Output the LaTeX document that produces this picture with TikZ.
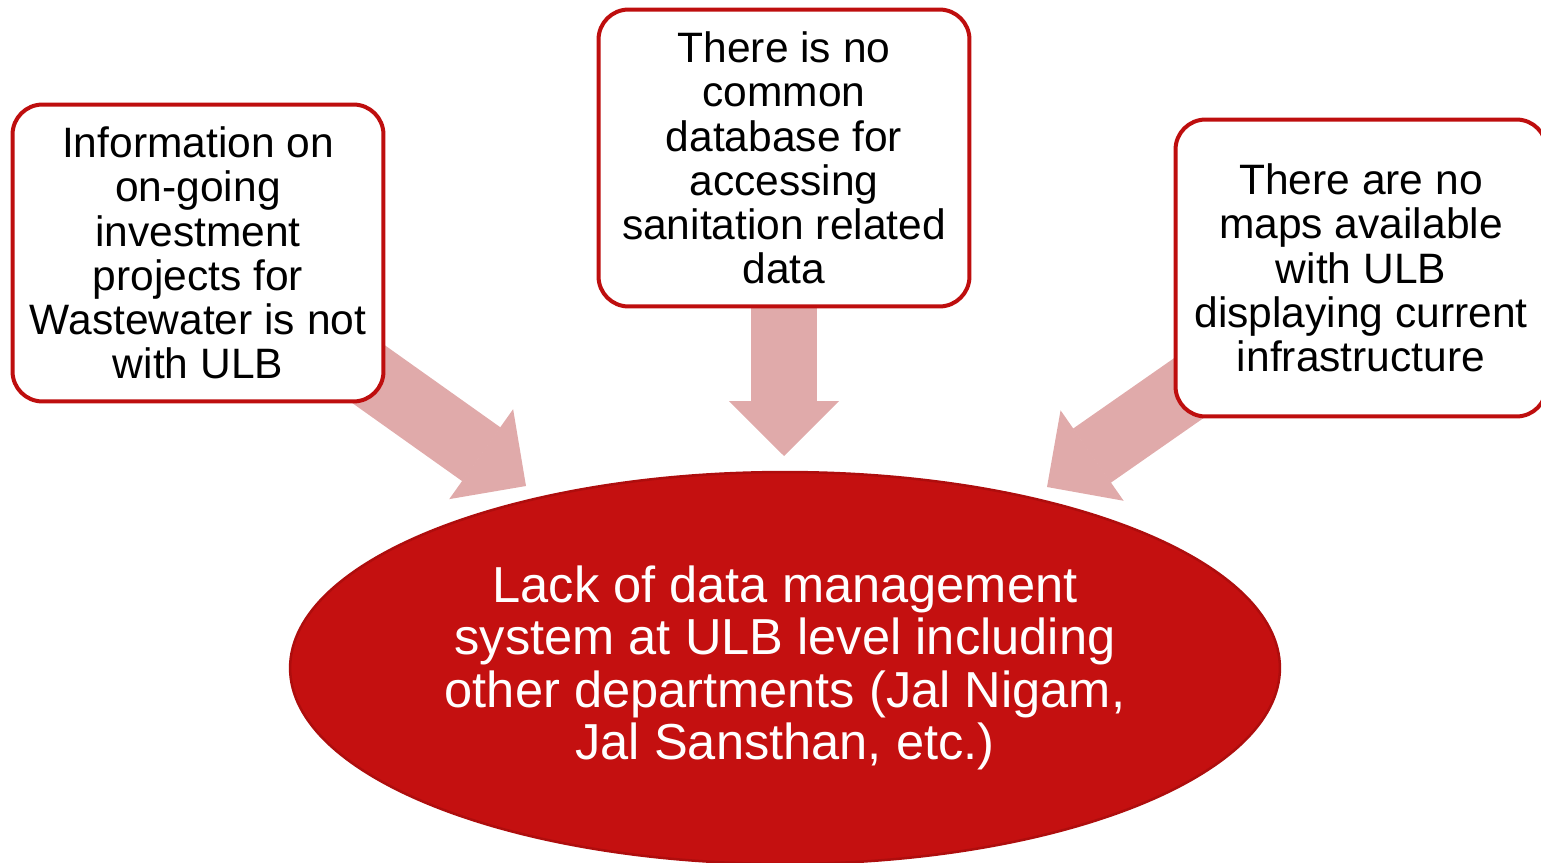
\documentclass[tikz,border=0pt]{standalone}
\usepackage{fontspec}
\setmainfont{Liberation Sans}
\usetikzlibrary{arrows.meta,shapes.geometric,backgrounds}
\definecolor{boxred}{HTML}{BE0E0E}
\definecolor{ellred}{HTML}{C41010}
\definecolor{ellrim}{HTML}{AE0D0D}
\definecolor{arrowpink}{HTML}{E0AAAA}

\begin{document}
\begin{tikzpicture}[x=0.02cm,y=-0.02cm,
	cause/.style={draw=boxred,line width=0.08cm,fill=white,rounded corners=0.6cm,
		minimum width=7.42cm,minimum height=5.94cm,inner sep=0pt,align=center,
		font=\fontsize{24.2}{25.2}\selectfont},
	problem/.style={ellipse,draw=ellrim,line width=0.05cm,fill=ellred,text=white,
		minimum width=19.8cm,minimum height=7.84cm,inner sep=0pt,align=center,
		font=\fontsize{28.8}{29.8}\selectfont},
	feed/.style={arrowpink,line width=1.32cm,-{Triangle[length=1.1cm,width=2.2cm,line width=1pt]}}]
		\useasboundingbox (0,0) rectangle (1541,862);
		\clip (0,0) rectangle (1541,862);

		\node[cause] (info) at (198,253)   {Information on\\on-going\\investment\\projects for\\Wastewater is not\\with ULB};
		\node[cause] (base) at (784,158)   {There is no\\common\\database for\\accessing\\sanitation related\\data};
		\node[cause] (maps) at (1361,268)  {There are no\\maps available\\with ULB\\displaying current\\infrastructure};
		\node[problem] (lack) at (785,668) {Lack of data management\\system at ULB level including\\other departments (Jal Nigam,\\Jal Sansthan, etc.)};

		\coordinate (tipL) at (526,486);
		\coordinate (tipM) at (784,456);
		\coordinate (tipR) at (1047,487);

		\begin{pgfonlayer}{background}
			\draw[feed] (info.center) -- (tipL);
			\draw[feed] (base.center) -- (tipM);
			\draw[feed] (maps.center) -- (tipR);
		\end{pgfonlayer}
	\end{tikzpicture}
\end{document}
